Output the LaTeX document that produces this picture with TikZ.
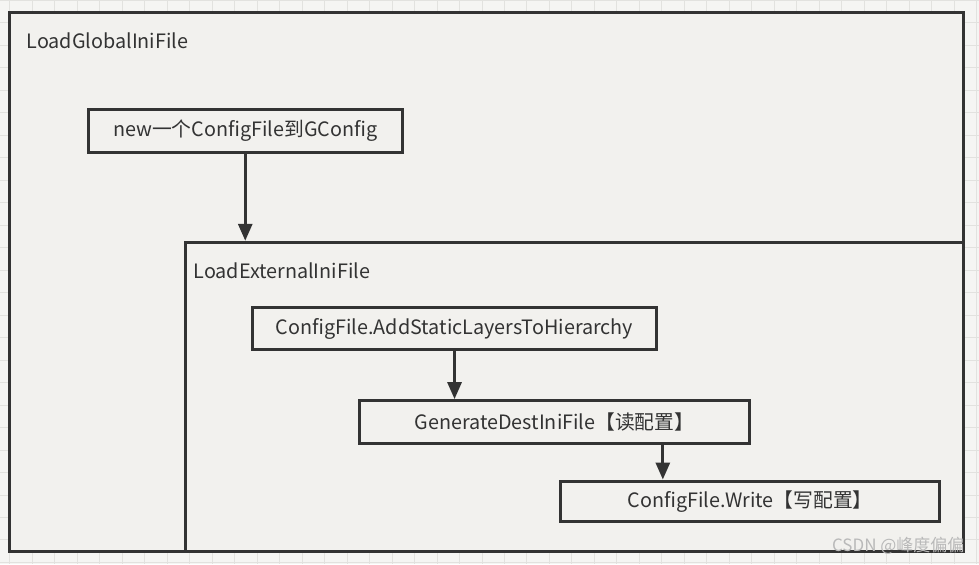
\documentclass[tikz,border=0pt]{standalone}
\usepackage{fontspec}
\setmainfont{Noto Sans CJK SC}
\usetikzlibrary{arrows.meta}
\definecolor{paper}{HTML}{F2F1EE}
\definecolor{sheet}{HTML}{F5F5F3}
\definecolor{gridline}{HTML}{E2E2DF}
\definecolor{ink}{HTML}{333333}

\begin{document}
\begin{tikzpicture}[x=1pt, y=-1pt,
    frame/.style={draw=ink, line width=3pt, fill=paper, anchor=north west, inner sep=0pt},
    title/.style={anchor=west, inner sep=0pt, text=ink, font=\fontsize{19.8}{23}\selectfont},
    box/.style={draw=ink, line width=3pt, fill=paper, inner sep=0pt, text=ink, font=\fontsize{19.8}{23}\selectfont},
    arr/.style={draw=ink, line width=3pt, -{Triangle[length=17pt, width=14pt]}}]

    % page with grid
    \fill[sheet] (0,0) rectangle (979,564);
    \foreach \gx in {9.5,32,...,980} \draw[gridline, line width=1pt] (\gx,0) -- (\gx,564);
    \foreach \gy in {-0.5,22,...,565} \draw[gridline, line width=1pt] (0,\gy) -- (979,\gy);

    % containers
    \node[frame, minimum width=954pt, minimum height=540pt] (global) at (8,10) {};
    \node[title] (globaltitle) at (26,40) {LoadGlobalIniFile};
    \node[box, minimum width=314pt, minimum height=43pt] (newcfg) at (245,130) {new一个ConfigFile到GConfig};

    \node[frame, minimum width=778pt, minimum height=310pt] (external) at (184,240) {};
    \node[title] (externaltitle) at (193,270) {LoadExternalIniFile};

    % steps
    \node[box, minimum width=405pt, minimum height=42pt] (addstatic) at (454.5,328) {ConfigFile.AddStaticLayersToHierarchy};
    \node[box, minimum width=391pt, minimum height=43pt] (gendest) at (554.5,421.5) {GenerateDestIniFile【读配置】};
    \node[box, minimum width=379pt, minimum height=41pt] (write) at (750.5,501) {ConfigFile.Write【写配置】};

    \draw[arr] (newcfg.south) -- (newcfg.south |- external.north);
    \draw[arr] (addstatic.south) -- (addstatic.south |- gendest.north);
    \draw[arr] ([xshift=108.5pt]gendest.south) -- ([xshift=108.5pt]gendest.south |- write.north);

    \node[anchor=east, inner sep=0pt, text=gray!55, font=\fontsize{17}{20}\selectfont] (mark) at (965,545) {CSDN @峰度偏偏};
\end{tikzpicture}
\end{document}
